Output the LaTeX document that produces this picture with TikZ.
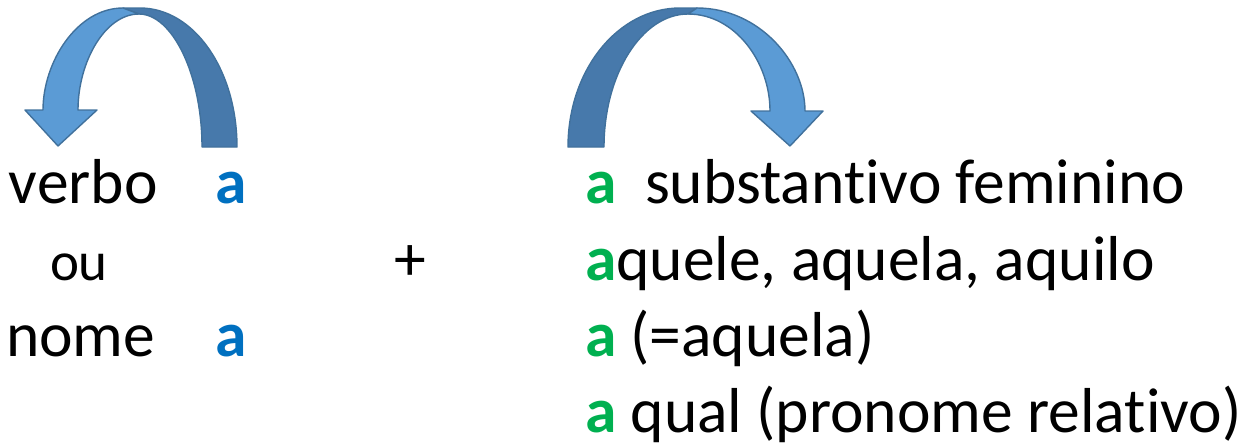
\documentclass[tikz,border=0pt]{standalone}
\usepackage{fontspec}
\setmainfont{Carlito}[Ligatures={NoCommon}]
\definecolor{arrlight}{HTML}{5B9BD5}
\definecolor{arrdark}{HTML}{4779AB}
\definecolor{arrline}{HTML}{41719C}
\definecolor{ablue}{HTML}{0070C0}
\definecolor{agreen}{HTML}{00B050}
\tikzset{
  txt/.style={anchor=base west, inner sep=0pt, outer sep=0pt, font=\fontsize{63.5}{74}\selectfont},
  smalltxt/.style={anchor=base west, inner sep=0pt, outer sep=0pt, font=\fontsize{55}{64}\selectfont},
  backband/.style={fill=arrdark, draw=arrline, line width=1.4pt, line join=round},
  frontband/.style={fill=arrlight, draw=arrline, line width=1.4pt, line join=round},
}
\newcommand{\ba}{\textcolor{ablue}{\textbf{a}}}
\newcommand{\ga}{\textcolor{agreen}{\textbf{a}}}
\begin{document}
\begin{tikzpicture}[x=1pt,y=-1pt]
\path[use as bounding box] (0,0) rectangle (1249,445);
% left curved arrow
\path[backband] (237,147) .. controls (237,70) and (194,8) .. (140,8) -- (123,8) -- (139,14)
  .. controls (172,14) and (202,74) .. (202,147) -- cycle;
\path[frontband] (139,14) -- (123,8) .. controls (77,8) and (43,62) .. (43,110)
  -- (25,110) -- (58,146) -- (97,110) -- (78,110)
  .. controls (78,62) and (105,14) .. (139,14) -- cycle;
% right curved arrow
\path[backband] (568,147) .. controls (568,70) and (618,8) .. (680,8) -- (697,8) -- (688,14)
  .. controls (642,14) and (604,74) .. (604,147) -- cycle;
\path[frontband] (688,14) -- (697,8) .. controls (759,8) and (805,62) .. (805,111)
  -- (823,111) -- (790,146) -- (751,111) -- (770,111)
  .. controls (770,62) and (735,14) .. (688,14) -- cycle;
% left texts
\node[txt] (verbo) at (9,203) {verbo};
\node[txt] (a1) at (215,203) {\ba};
\node[smalltxt] (ou) at (50,280) {ou};
\node[txt] (nome) at (6,356) {nome};
\node[txt] (a2) at (215,356) {\ba};
\node[txt] (plus) at (394,280) {+};
% right texts
\node[txt] (r1) at (585,203) {\ga\ \ substantivo feminino};
\node[txt] (r2) at (585,280) {\ga quele, aquela, aquilo};
\node[txt] (r3) at (585,356) {\ga\ (=aquela)};
\node[txt] (r4) at (585,432) {\ga\ qual (pronome relativo)};
\end{tikzpicture}
\end{document}
